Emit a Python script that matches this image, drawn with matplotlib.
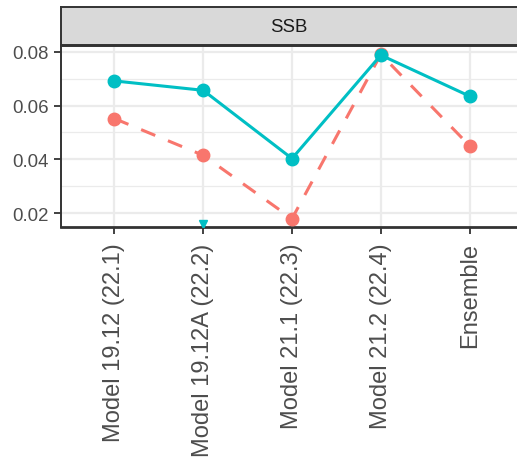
import matplotlib
matplotlib.use('Agg')
import matplotlib.pyplot as plt
import numpy as np

# Данные
models = ['Model 19.12 (22.1)', 'Model 19.12A (22.2)', 'Model 21.1 (22.3)',
          'Model 21.2 (22.4)', 'Ensemble']
cyan_vals = [0.0692, 0.0657, 0.0403, 0.0788, 0.0635]
red_vals = [0.0552, 0.0415, 0.0179, 0.0791, 0.0450]
# одиночная точка у нижней границы
extra_x = [1]
extra_vals = [0.0158]

RED = '#F8766D'
CYAN = '#00BFC4'

plt.rcParams['font.family'] = ['Liberation Sans', 'DejaVu Sans']

W, H = 517, 464
fig = plt.figure(figsize=(W / 100, H / 100), dpi=100)

left, right = 61, 523
top, bottom = 47, 228
ax = fig.add_axes([left / W, (H - bottom) / H, (right - left) / W, (bottom - top) / H])

x = np.arange(len(models))
ax.plot(x, red_vals, color=RED, lw=2.2, ls=(0, (5, 4.5)), zorder=3)
ax.plot(x, red_vals, 'o', color=RED, ms=9, zorder=4)
ax.plot(x, cyan_vals, color=CYAN, lw=2.2, zorder=3)
ax.plot(x, cyan_vals, 'o', color=CYAN, ms=9, zorder=4)
ax.plot(extra_x, extra_vals, 'v', color=CYAN, ms=6, zorder=4)

ax.set_xlim(-0.6, len(models) - 0.4)
ax.set_ylim(0.0148, 0.0822)
ax.set_xticks(x)
ax.set_xticklabels(models, rotation=90, fontsize=17, color='#4D4D4D')
ax.set_yticks([0.02, 0.04, 0.06, 0.08])
ax.set_yticklabels(['0.02', '0.04', '0.06', '0.08'], fontsize=13.4, color='#4D4D4D')
ax.set_yticks([0.03, 0.05, 0.07], minor=True)
ax.tick_params(axis='both', which='major', length=5, width=1.3, color='#333333')
ax.tick_params(axis='x', pad=6)
ax.tick_params(axis='y', pad=4)
ax.tick_params(axis='y', which='minor', length=0)

ax.grid(True, which='major', color='#EBEBEB', lw=1.6, zorder=0)
ax.grid(True, which='minor', axis='y', color='#EBEBEB', lw=0.9, zorder=0)
ax.set_axisbelow(True)
for side in ['left', 'bottom', 'top']:
    ax.spines[side].set_color('#333333')
    ax.spines[side].set_linewidth(1.4)
ax.spines['right'].set_visible(False)
ax.spines['bottom'].set_linewidth(2)

# Полоса фасета
strip_top, strip_bottom = 8, 46
sax = fig.add_axes([left / W, (H - strip_bottom) / H, (right - left) / W,
                    (strip_bottom - strip_top) / H])
sax.set_facecolor('#D9D9D9')
sax.set_xticks([])
sax.set_yticks([])
for side in ['left', 'bottom', 'top']:
    sax.spines[side].set_color('#333333')
    sax.spines[side].set_linewidth(1.4)
sax.spines['right'].set_visible(False)
sax.text(0.5 * (W - left) / (right - left), 0.5, 'SSB', ha='center', va='center',
         fontsize=13.4, color='#1A1A1A', transform=sax.transAxes)

fig.savefig('out.png', dpi=100)
